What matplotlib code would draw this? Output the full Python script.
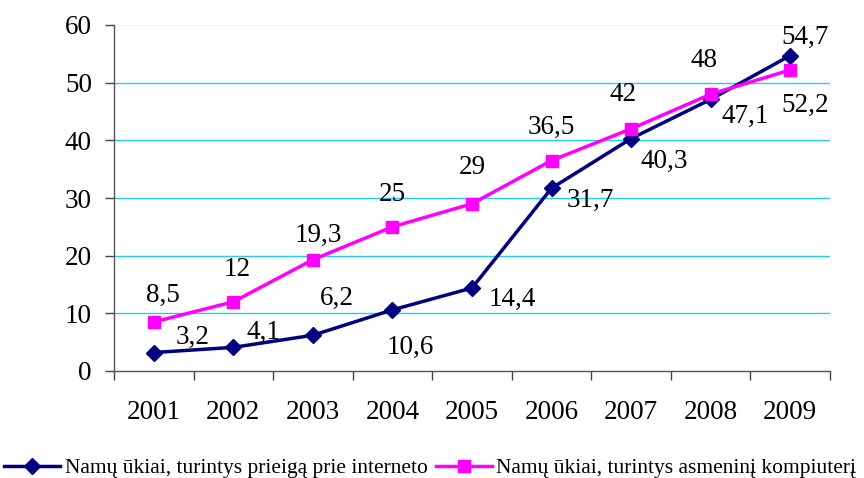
import matplotlib
matplotlib.use("Agg")
import matplotlib.pyplot as plt
import numpy as np

years = ["2001", "2002", "2003", "2004", "2005", "2006", "2007", "2008", "2009"]
internet = [3.2, 4.1, 6.2, 10.6, 14.4, 31.7, 40.3, 47.1, 54.7]
computer = [8.5, 12, 19.3, 25, 29, 36.5, 42, 48, 52.2]
internet_label = "Namų ūkiai, turintys prieigą prie interneto"
computer_label = "Namų ūkiai, turintys asmeninį kompiuterį"

# label offsets in pixels
internet_off = [(39, 15), (30, 15), (24, 37), (18, -38), (40, -11),
                (39, -12), (33, -23), (35, -17), (15, 18)]
computer_off = [(9, 27), (4, 32), (5, 24), (0, 32), (0, 36),
                (0, 33), (-8, 34), (-7, 34), (15, -35)]

plt.rcParams['font.family'] = ['Liberation Serif', 'DejaVu Serif']
FS = 19.5

fig = plt.figure(figsize=(8.64, 4.78), dpi=100)
ax = fig.add_axes([114 / 864, 1 - 371 / 478, (830 - 114) / 864, (371 - 25) / 478])

x = np.arange(len(years))
l1, = ax.plot(x, internet, color='#000080', lw=2.5, marker='D', ms=8,
              label=internet_label, zorder=3)
l2, = ax.plot(x, computer, color='#FF00FF', lw=2.5, marker='s', ms=9,
              label=computer_label, zorder=4)

for xi, v, off in zip(x, internet, internet_off):
    ax.annotate(f"{v:g}".replace('.', ','), (xi, v), xytext=off,
                textcoords='offset pixels', ha='center', va='center', fontsize=FS)
for xi, v, off in zip(x, computer, computer_off):
    ax.annotate(f"{v:g}".replace('.', ','), (xi, v), xytext=off,
                textcoords='offset pixels', ha='center', va='center', fontsize=FS)

ax.set_xlim(-0.5, len(years) - 0.5)
ax.set_ylim(0, 60)
ax.set_yticks(range(0, 61, 10))
for yv in range(10, 51, 10):
    ax.axhline(yv, color='#22CCF5', lw=1, zorder=1)
ax.axhline(60, color='#E6F8FC', lw=1, zorder=1)

ax.set_xticks(np.arange(-0.5, len(years)), labels=[''] * (len(years) + 1))
ax.set_xticks(x, labels=years, minor=True)
ax.tick_params(axis='x', which='major', length=6.3, width=1, color='#444444', direction='out')
ax.tick_params(axis='x', which='minor', length=0, pad=21, labelsize=FS)
ax.tick_params(axis='y', length=6.5, width=1, color='#444444', pad=9.4, labelsize=FS)

for s in ['top', 'right']:
    ax.spines[s].set_visible(False)
for s in ['left', 'bottom']:
    ax.spines[s].set_color('#555555')
    ax.spines[s].set_linewidth(1)

fig.legend(handles=[l1, l2], loc='center left', bbox_to_anchor=(0.0, 1 - 468 / 478),
           ncol=2, frameon=False, fontsize=15.5, handlelength=2.6, handletextpad=0.2,
           columnspacing=0.4, borderaxespad=0, borderpad=0.2)

fig.savefig('out.png', dpi=100)
